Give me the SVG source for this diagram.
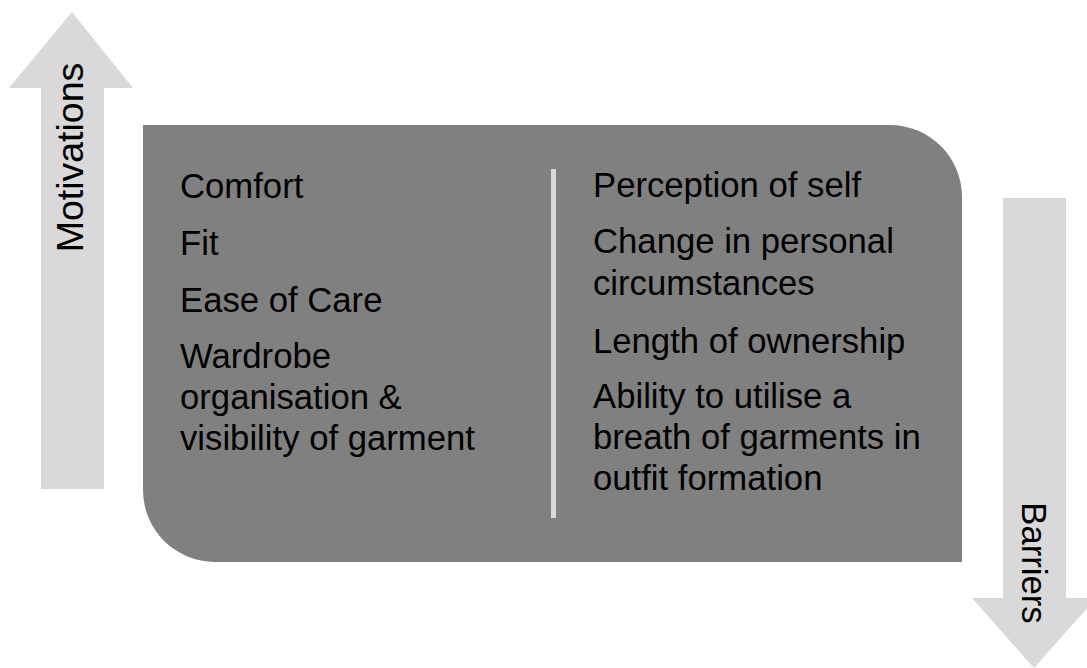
<svg xmlns="http://www.w3.org/2000/svg" width="1087" height="668" viewBox="0 0 1087 668">
<style>
.arrow{fill:#d9d9d9}
.t{font-family:"Liberation Sans",Arial,sans-serif;font-size:34.7px;fill:#000}
</style>
<rect width="1087" height="668" fill="#ffffff"/>
<g id="motivations-arrow">
<path class="arrow" d="M72,12 L133,88 L104,88 L104,489 L41,489 L41,88 L9,88 Z"/>
<text class="t" style="font-size:37.5px" text-anchor="middle" transform="translate(83,157.5) rotate(-90)">Motivations</text>
</g>
<g id="barriers-arrow">
<path class="arrow" d="M1003,198 L1066,198 L1066,598 L1096,598 L1034,668 L972,598 L1003,598 Z"/>
<text class="t" text-anchor="middle" transform="translate(1022,563) rotate(90)">Barriers</text>
</g>
<g id="panel">
<path d="M143,125 H890 A72,72 0 0 1 962,197 V562 H215 A72,72 0 0 1 143,490 Z" fill="#808080"/>
<rect x="551" y="169" width="5" height="349" fill="#d9d9d9"/>
</g>
<g id="motivations-list">
<text class="t" x="180" y="198">Comfort</text>
<text class="t" x="180" y="255">Fit</text>
<text class="t" x="180" y="312">Ease of Care</text>
<text class="t" x="180" y="368">Wardrobe</text>
<text class="t" x="180" y="409">organisation &amp;</text>
<text class="t" x="180" y="450">visibility of garment</text>
</g>
<g id="barriers-list">
<text class="t" x="593" y="197">Perception of self</text>
<text class="t" x="593" y="253">Change in personal</text>
<text class="t" x="593" y="295">circumstances</text>
<text class="t" x="593" y="353">Length of ownership</text>
<text class="t" x="593" y="408">Ability to utilise a</text>
<text class="t" x="593" y="449">breath of garments in</text>
<text class="t" x="593" y="490">outfit formation</text>
</g>
<g id="connectors"/>
</svg>
